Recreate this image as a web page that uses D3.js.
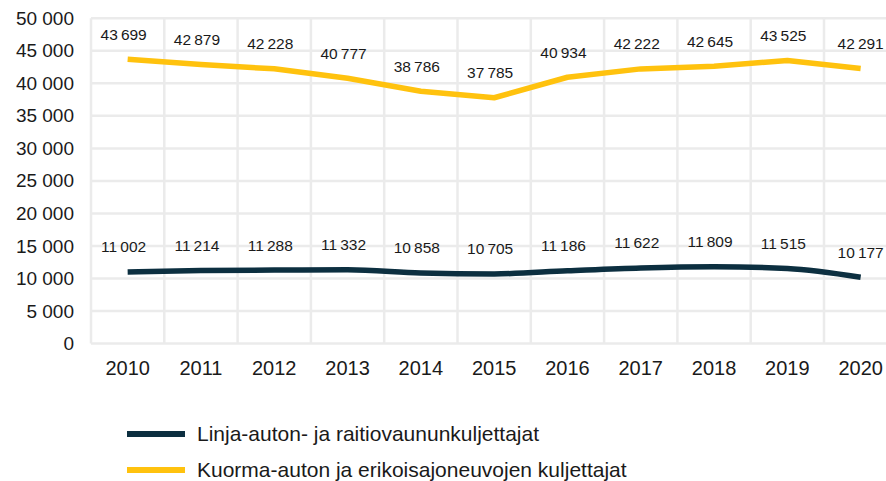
<!DOCTYPE html>
<html>
<head>
<meta charset="utf-8">
<script src="https://cdn.jsdelivr.net/npm/d3@7"></script>
<style>
  body { margin: 0; background: #fff; }
  svg { font-family: "Liberation Sans", Arial, sans-serif; }
</style>
</head>
<body>
<svg id="chart" width="886" height="481"></svg>
<script>
// years on the x axis
const years = ["2010", "2011", "2012", "2013", "2014", "2015", "2016", "2017", "2018", "2019", "2020"];
// Linja-auton- ja raitiovaununkuljettajat
const busValues = [11002, 11214, 11288, 11332, 10858, 10705, 11186, 11622, 11809, 11515, 10177];
// Kuorma-auton ja erikoisajoneuvojen kuljettajat
const truckValues = [43699, 42879, 42228, 40777, 38786, 37785, 40934, 42222, 42645, 43525, 42291];
const yTicks = [0, 5000, 10000, 15000, 20000, 25000, 30000, 35000, 40000, 45000, 50000];
const seriesNames = ["Linja-auton- ja raitiovaununkuljettajat", "Kuorma-auton ja erikoisajoneuvojen kuljettajat"];
const seriesColors = ["#0c2f40", "#ffc20e"];

let svg = d3.select("#chart");

let x = d3.scaleBand().domain(years).range([91, 91 + 73.3 * years.length]).padding(0),
    y = d3.scaleLinear().domain([0, 50000]).range([343.5, 18.3]);

const fi = d3.formatLocale({decimal: ",", thousands: "\u2009", grouping: [3], currency: ["", "€"]});
const fmtAxis = d3.formatLocale({decimal: ",", thousands: " ", grouping: [3], currency: ["", "€"]}).format(",d");
const fmt = fi.format(",d");

// grid
let grid = svg.append("g").attr("stroke", "#ebebeb").attr("stroke-width", 2.5);
grid.selectAll(".h")
    .data(yTicks)
    .enter().append("line")
    .attr("x1", 91).attr("x2", 886)
    .attr("y1", function(d) { return y(d); })
    .attr("y2", function(d) { return y(d); });
grid.selectAll(".v")
    .data(years)
    .enter().append("line")
    .attr("x1", function(d) { return x(d); })
    .attr("x2", function(d) { return x(d); })
    .attr("y1", y(50000)).attr("y2", y(0));

// y axis labels
svg.append("g")
    .attr("transform", "translate(74,0)")
    .call(d3.axisLeft(y).tickValues(yTicks).tickSize(0).tickPadding(0).tickFormat(fmtAxis))
    .call(function(g) { g.select(".domain").remove(); })
    .selectAll("text")
    .style("font-size", "19px")
    .attr("fill", "#1a1a1a");

// x axis labels
svg.append("g")
    .attr("transform", "translate(0," + y(0) + ")")
    .call(d3.axisBottom(x).tickSize(0).tickPadding(17))
    .call(function(g) { g.select(".domain").remove(); })
    .selectAll("text")
    .style("font-size", "20px")
    .attr("fill", "#1a1a1a");

let series = [busValues, truckValues];

let line = d3.line()
    .x(function(d, i) { return x(years[i]) + x.bandwidth() / 2; })
    .y(function(d) { return y(d); });

series.forEach(function(values, s) {
    svg.append("path")
        .datum(values)
        .attr("fill", "none")
        .attr("stroke", seriesColors[s])
        .attr("stroke-width", 5.5)
        .attr("stroke-linejoin", "round")
        .attr("d", line.curve(s === 0 ? d3.curveMonotoneX : d3.curveLinear));

    svg.append("g").selectAll("text")
        .data(values)
        .enter().append("text")
        .attr("x", function(d, i) { return x(years[i]) + x.bandwidth() / 2 - (i === values.length - 1 ? 0 : 4); })
        .attr("y", function(d) { return y(d) - 25; })
        .attr("dy", "0.35em")
        .attr("text-anchor", "middle")
        .style("font-size", "15.5px")
        .attr("fill", "#1a1a1a")
        .text(function(d) { return fmt(d); });
});

// legend
let legend = svg.append("g").selectAll("g")
    .data(seriesNames)
    .enter().append("g")
    .attr("transform", function(d, i) { return "translate(127," + (434 + i * 36) + ")"; });
legend.append("line")
    .attr("x1", 0).attr("x2", 58)
    .attr("stroke", function(d, i) { return seriesColors[i]; })
    .attr("stroke-width", 6);
legend.append("text")
    .attr("x", 70)
    .attr("dy", "0.35em")
    .style("font-size", "21px")
    .attr("fill", "#1a1a1a")
    .text(function(d) { return d; });
</script>
</body>
</html>
